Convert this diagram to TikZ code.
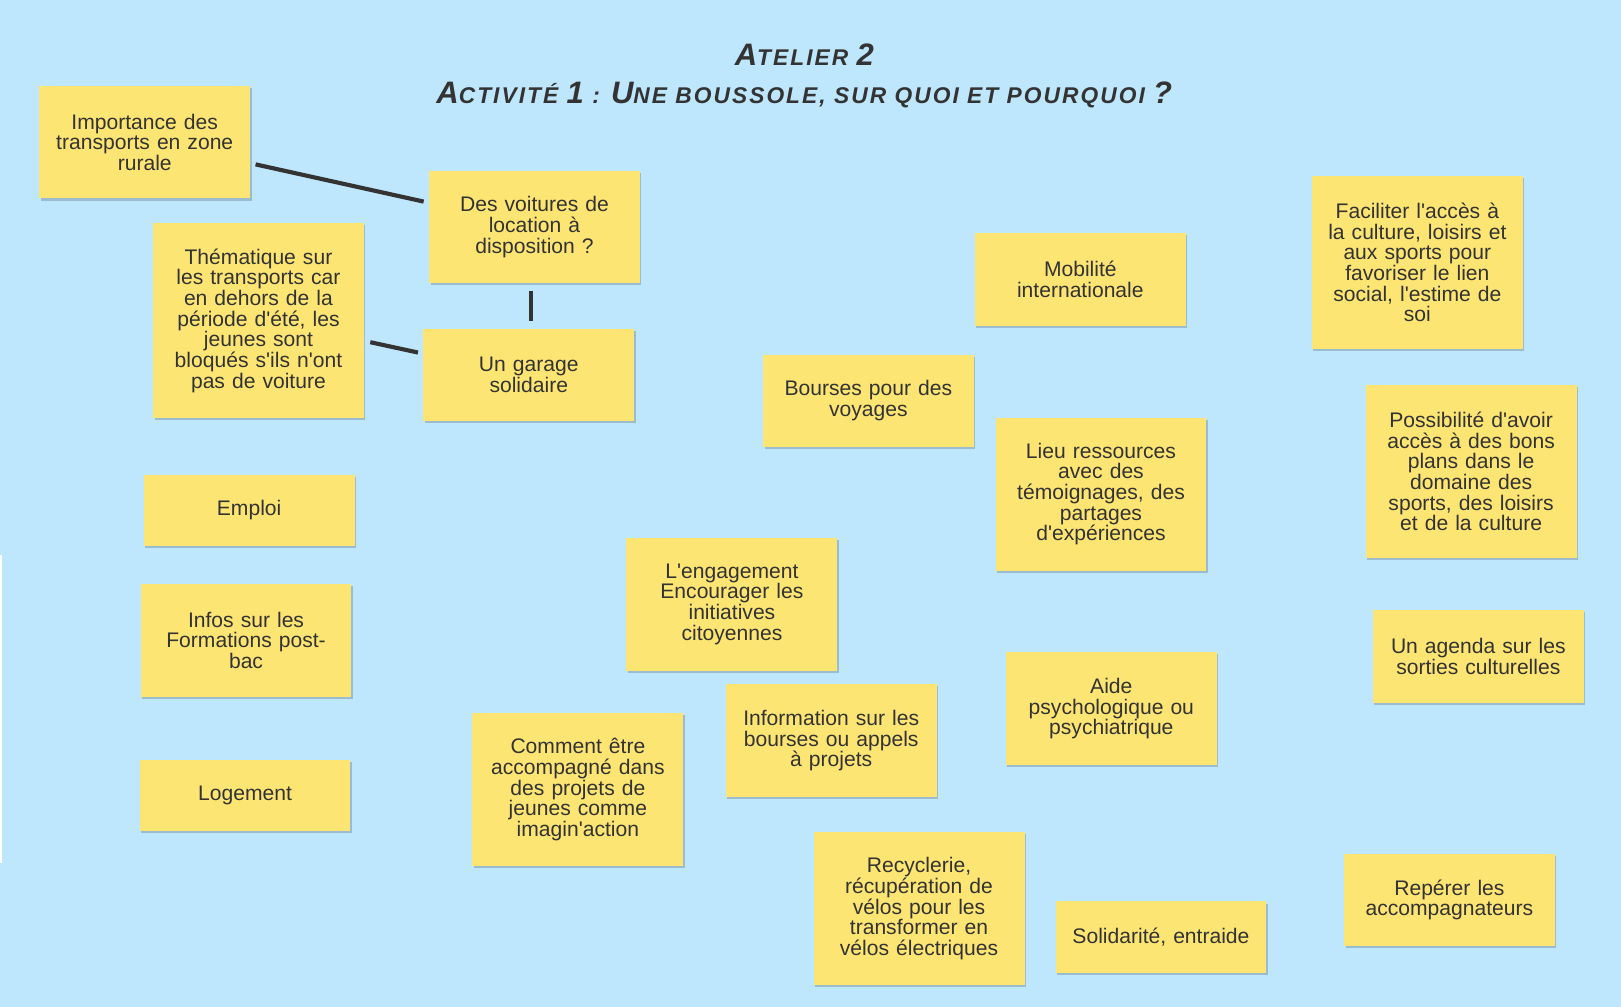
\documentclass[tikz,border=0pt]{standalone}
\usepackage{fontspec}
\setmainfont{Liberation Sans}
\newfontfamily\notefont{Liberation Sans}
\newfontfamily\titlefont{Liberation Sans}[LetterSpace=9]
\usetikzlibrary{shadows}
\definecolor{bg}{HTML}{BEE6FC}
\definecolor{note}{HTML}{FDE574}
\definecolor{ink}{HTML}{333333}
\newcommand\ttlcap[1]{{\fontsize{30}{30}\selectfont #1}}
\begin{document}
\begin{tikzpicture}[x=1pt,y=-1pt,
  sticky/.style={fill=note, text=ink, minimum width=204pt, text width=196pt,
    align=center, inner sep=0pt, font=\notefont\fontsize{20.4}{20}\selectfont,
    drop shadow={opacity=0.18, shadow xshift=1.5pt, shadow yshift=-2pt, fill=black}},
  conn/.style={draw=ink, line width=4pt},
  ttl/.style={text=ink, font=\titlefont\bfseries\itshape\fontsize{22}{22}\selectfont, inner sep=0pt}]
\fill[bg] (0,0) rectangle (1568,974);
\useasboundingbox (0,0) rectangle (1568,974);
\fill[white] (0,537) rectangle (2,835);

\node[ttl] (t1) at (778,53) {\ttlcap{A}TELIER \ttlcap{2}};
\node[ttl] (t2) at (778,92) {\ttlcap{A}CTIVITÉ \ttlcap{1} : \ttlcap{U}NE BOUSSOLE, SUR QUOI ET POURQUOI \ttlcap{?}};

\node[sticky, minimum height=109pt] (imp) at (140,137.5) {Importance des\\transports en zone\\rurale};
\node[sticky, minimum height=109pt] (voit) at (517,219.5) {Des voitures de\\location à\\disposition ?};
\node[sticky, minimum height=188pt] (them) at (250,310) {Thématique sur\\les transports car\\en dehors de la\\période d'été, les\\jeunes sont\\bloqués s'ils n'ont\\pas de voiture};
\node[sticky, minimum height=89pt] (gar) at (511.5,362.5) {Un garage\\solidaire};
\node[sticky, minimum height=69pt] (emploi) at (241,493.5) {Emploi};
\node[sticky, minimum height=109pt] (infos) at (238,619.5) {Infos sur les\\Formations post-\\bac};
\node[sticky, minimum height=69pt] (loge) at (237,769.5) {Logement};
\node[sticky, minimum height=148pt] (comment) at (559,764) {Comment être\\accompagné dans\\des projets de\\jeunes comme\\imagin'action};
\node[sticky, minimum height=129pt] (engag) at (708,584.5) {L'engagement\\Encourager les\\initiatives\\citoyennes};
\node[sticky, minimum height=109pt] (infob) at (804,716.5) {Information sur les\\bourses ou appels\\à projets};
\node[sticky, minimum height=148pt] (recyc) at (889,879) {Recyclerie,\\récupération de\\vélos pour les\\transformer en\\vélos électriques};
\node[sticky, minimum height=69pt] (solid) at (1123,906.5) {Solidarité, entraide};
\node[sticky, minimum height=89pt] (voyag) at (840,387.5) {Bourses pour des\\voyages};
\node[sticky, minimum height=90pt] (mobil) at (1045,270) {Mobilité\\internationale};
\node[sticky, minimum height=148pt] (lieu) at (1065,478) {Lieu ressources\\avec des\\témoignages, des\\partages\\d'expériences};
\node[sticky, minimum height=109pt] (aide) at (1075,685.5) {Aide\\psychologique ou\\psychiatrique};
\node[sticky, minimum height=168pt] (facil) at (1371,254) {Faciliter l'accès à\\la culture, loisirs et\\aux sports pour\\favoriser le lien\\social, l'estime de\\soi};
\node[sticky, minimum height=168pt] (possib) at (1423,456) {Possibilité d'avoir\\accès à des bons\\plans dans le\\domaine des\\sports, des loisirs\\et de la culture};
\node[sticky, minimum height=90pt] (agenda) at (1430,635) {Un agenda sur les\\sorties culturelles};
\node[sticky, minimum height=89pt] (reper) at (1402,870.5) {Repérer les\\accompagnateurs};

\draw[conn] ([xshift=5pt,yshift=-21.5pt]imp.east) -- ([xshift=-5pt,yshift=24.5pt]voit.west);
\draw[conn] ([xshift=-3pt,yshift=-7pt]voit.south) -- ([xshift=2.5pt,yshift=7pt]gar.north);
\draw[conn] ([xshift=6pt,yshift=-21pt]them.east) -- ([xshift=-5pt,yshift=21.5pt]gar.west);
\end{tikzpicture}
\end{document}
